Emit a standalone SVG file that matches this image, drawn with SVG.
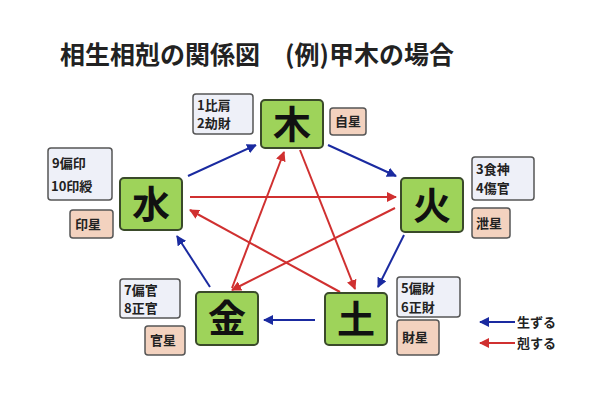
<svg xmlns="http://www.w3.org/2000/svg" width="600" height="400" viewBox="0 0 600 400">
<defs>
<marker id="ab" viewBox="0 0 10 10" refX="9" refY="5" markerWidth="5" markerHeight="5" orient="auto"><path d="M0,0L10,5L0,10z" fill="#1a2aa0"/></marker>
<marker id="ar" viewBox="0 0 10 10" refX="9" refY="5" markerWidth="5" markerHeight="5" orient="auto"><path d="M0,0L10,5L0,10z" fill="#d03030"/></marker>
<style>
.t{font-family:"Noto Sans CJK JP","Noto Sans CJK SC",sans-serif;font-weight:bold;fill:#222}
.n rect{fill:#9ed35a;stroke:#3a4a2a;stroke-width:2}
.n text{font-family:"Noto Sans CJK JP",sans-serif;font-size:38px;font-weight:bold;text-anchor:middle;fill:#111}
.i{fill:#eef0f8;stroke:#555;stroke-width:1.5}
.s{fill:#f3d2bf;stroke:#555;stroke-width:1.5}
.l{font-family:"Noto Sans CJK JP",sans-serif;font-size:13px;font-weight:bold;fill:#222}
.b{stroke:#1a2aa0;stroke-width:2;fill:none;marker-end:url(#ab)}
.r{stroke:#d03030;stroke-width:2;fill:none;marker-end:url(#ar)}
</style>
</defs>
<rect width="600" height="400" fill="#fff"/>
<text class="t" x="60" y="64" font-size="25">相生相剋の関係図　(例)甲木の場合</text>
<g id="connectors">
<line class="r" x1="300" y1="150" x2="355" y2="289"/>
<line class="r" x1="340" y1="292" x2="190" y2="210"/>
<line class="r" x1="190" y1="197" x2="396" y2="197"/>
<line class="r" x1="395" y1="208" x2="232" y2="290"/>
<line class="r" x1="232" y1="288" x2="284" y2="152"/>
<line class="b" x1="188" y1="176" x2="256" y2="145"/>
<line class="b" x1="328" y1="145" x2="396" y2="176"/>
<line class="b" x1="404" y1="235" x2="378" y2="287"/>
<line class="b" x1="315" y1="320" x2="264" y2="320"/>
<line class="b" x1="210" y1="287" x2="177" y2="236"/>
</g>
<g id="wood" class="n"><rect x="261" y="100" width="62" height="48" rx="4"/><text x="292" y="138">木</text></g>
<g id="fire" class="n"><rect x="401" y="178" width="62" height="54" rx="4"/><text x="432" y="219">火</text></g>
<g id="earth" class="n"><rect x="325" y="293" width="62" height="52" rx="4"/><text x="356" y="333">土</text></g>
<g id="metal" class="n"><rect x="196" y="292" width="62" height="53" rx="4"/><text x="227" y="332">金</text></g>
<g id="water" class="n"><rect x="120" y="178" width="62" height="52" rx="4"/><text x="151" y="218">水</text></g>
<g id="lbl-wood"><rect class="i" x="193" y="94" width="60" height="40" rx="3"/><text class="l" x="197" y="110">1比肩</text><text class="l" x="197" y="128">2劫財</text>
<rect class="s" x="330" y="108" width="36" height="27" rx="3"/><text class="l" x="335" y="126">自星</text></g>
<g id="lbl-fire"><rect class="i" x="472" y="157" width="62" height="43" rx="3"/><text class="l" x="476" y="174">3食神</text><text class="l" x="476" y="193">4傷官</text>
<rect class="s" x="472" y="208" width="38" height="30" rx="3"/><text class="l" x="476" y="228">泄星</text></g>
<g id="lbl-earth"><rect class="i" x="397" y="277" width="63" height="40" rx="3"/><text class="l" x="401" y="293">5偏財</text><text class="l" x="401" y="312">6正財</text>
<rect class="s" x="397" y="320" width="42" height="35" rx="3"/><text class="l" x="402" y="342">財星</text></g>
<g id="lbl-metal"><rect class="i" x="120" y="279" width="60" height="39" rx="3"/><text class="l" x="124" y="295">7偏官</text><text class="l" x="124" y="313">8正官</text>
<rect class="s" x="145" y="326" width="40" height="29" rx="3"/><text class="l" x="150" y="345">官星</text></g>
<g id="lbl-water"><rect class="i" x="48" y="148" width="64" height="52" rx="3"/><text class="l" x="52" y="168">9偏印</text><text class="l" x="51" y="191">10印綬</text>
<rect class="s" x="70" y="210" width="43" height="28" rx="3"/><text class="l" x="75" y="229">印星</text></g>
<g id="legend">
<line class="b" x1="515" y1="322" x2="480" y2="322"/><text class="l" x="517" y="327">生ずる</text>
<line class="r" x1="515" y1="343" x2="480" y2="343"/><text class="l" x="517" y="348">剋する</text>
</g>
</svg>
